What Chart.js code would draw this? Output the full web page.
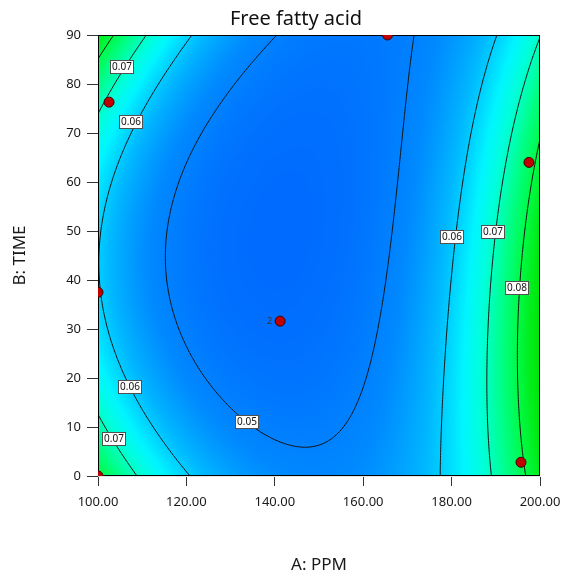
<!DOCTYPE html>
<html>
<head>
<meta charset="utf-8">
<script src="https://cdn.jsdelivr.net/npm/chart.js@4.4.0/dist/chart.umd.min.js"></script>
<style>
  html, body { margin: 0; padding: 0; background: #fff; }
</style>
</head>
<body>
<canvas id="ffaChart" width="563" height="576"></canvas>
<script>
// Fitted response surface: ln(FFA) as a cubic in coded factors
// a = (PPM - 150) / 50, b = (TIME - 45) / 45
// terms: 1, a, b, ab, a², b², a²b, ab², a³, b³
const logCoefs = [-3.10024, 0.176148, -0.0411157, -0.0644748, 0.477653,
  0.0993643, -0.00117925, -0.227345, 0.0116127, 0.00681496];

// contour levels and where their labels sit
const levels = [0.05, 0.06, 0.07, 0.08];
const labelLevel = [0.07, 0.06, 0.06, 0.07, 0.05, 0.06, 0.07, 0.08];
const labelA = [105.4, 107.5, 107.2, 103.6, 133.6, 180.2, 189.4, 194.8];
const labelB = [83.4, 72.3, 18.2, 7.6, 11.1, 48.7, 49.7, 38.3];

// design points (runs)
const pointA = [100, 100, 102.5, 141.2, 165.5, 197.5, 195.7];
const pointB = [0, 37.5, 76.3, 31.6, 90, 64, 2.8];
const pointRuns = [1, 1, 1, 2, 1, 1, 1];

const xTicks = [100, 120, 140, 160, 180, 200];
const yTicks = [0, 10, 20, 30, 40, 50, 60, 70, 80, 90];

function terms(A, B) {
  const a = (A - 150) / 50, b = (B - 45) / 45;
  return [1, a, b, a * b, a * a, b * b, a * a * b, a * b * b, a * a * a, b * b * b];
}
function ffa(A, B) {
  const t = terms(A, B);
  let s = 0;
  for (let i = 0; i < t.length; i++) s += logCoefs[i] * t[i];
  return Math.exp(s);
}

const colorStops = [
  [0.040, [0, 96, 255]], [0.046, [0, 112, 255]], [0.052, [0, 138, 255]],
  [0.058, [0, 185, 255]], [0.064, [0, 245, 255]], [0.068, [0, 255, 220]],
  [0.074, [0, 255, 140]], [0.080, [0, 250, 70]], [0.086, [0, 235, 20]], [0.092, [0, 225, 0]]
];
function colorFor(v) {
  if (v <= colorStops[0][0]) return colorStops[0][1];
  for (let i = 1; i < colorStops.length; i++) {
    if (v <= colorStops[i][0]) {
      const [v0, c0] = colorStops[i - 1], [v1, c1] = colorStops[i];
      const t = (v - v0) / (v1 - v0);
      return c0.map((c, k) => c + (c1[k] - c) * t);
    }
  }
  return colorStops[colorStops.length - 1][1];
}

const surfacePlugin = {
  id: 'surface',
  beforeDatasetsDraw(chart) {
    const {ctx, chartArea: area, scales: {x, y}} = chart;

    // shaded surface, one pixel at a time
    const w = Math.round(area.right - area.left), h = Math.round(area.bottom - area.top);
    const off = document.createElement('canvas');
    off.width = w; off.height = h;
    const octx = off.getContext('2d');
    const img = octx.createImageData(w, h);
    for (let j = 0; j < h; j++) {
      const B = y.getValueForPixel(area.top + j + 0.5);
      for (let i = 0; i < w; i++) {
        const A = x.getValueForPixel(area.left + i + 0.5);
        const c = colorFor(ffa(A, B));
        const k = (j * w + i) * 4;
        img.data[k] = c[0]; img.data[k + 1] = c[1]; img.data[k + 2] = c[2]; img.data[k + 3] = 255;
      }
    }
    octx.putImageData(img, 0, 0);
    ctx.drawImage(off, area.left, area.top);

    // contour lines (marching squares)
    const N = 150;
    const gA = i => 100 + 100 * i / N, gB = j => 90 * j / N;
    const grid = [];
    for (let j = 0; j <= N; j++) {
      grid.push([]);
      for (let i = 0; i <= N; i++) grid[j].push(ffa(gA(i), gB(j)));
    }
    ctx.save();
    ctx.beginPath();
    ctx.rect(area.left, area.top, area.right - area.left, area.bottom - area.top);
    ctx.clip();
    ctx.strokeStyle = '#141414';
    ctx.lineWidth = 1;
    ctx.beginPath();
    for (const lv of levels) {
      for (let j = 0; j < N; j++) {
        for (let i = 0; i < N; i++) {
          const v = [grid[j][i], grid[j][i + 1], grid[j + 1][i + 1], grid[j + 1][i]];
          const c = [[gA(i), gB(j)], [gA(i + 1), gB(j)], [gA(i + 1), gB(j + 1)], [gA(i), gB(j + 1)]];
          const pts = [];
          for (let e = 0; e < 4; e++) {
            const a = v[e], b = v[(e + 1) % 4];
            if ((a < lv) !== (b < lv)) {
              const t = (lv - a) / (b - a);
              const p = c[e], q = c[(e + 1) % 4];
              pts.push([p[0] + (q[0] - p[0]) * t, p[1] + (q[1] - p[1]) * t]);
            }
          }
          for (let k = 0; k + 1 < pts.length; k += 2) {
            ctx.moveTo(x.getPixelForValue(pts[k][0]), y.getPixelForValue(pts[k][1]));
            ctx.lineTo(x.getPixelForValue(pts[k + 1][0]), y.getPixelForValue(pts[k + 1][1]));
          }
        }
      }
    }
    ctx.stroke();

    // level labels in white boxes
    ctx.font = '10px "Noto Sans"';
    ctx.textAlign = 'center';
    ctx.textBaseline = 'middle';
    labelLevel.forEach((lv, i) => {
      const px = Math.round(x.getPixelForValue(labelA[i])), py = Math.round(y.getPixelForValue(labelB[i]));
      ctx.fillStyle = '#fff';
      ctx.fillRect(px - 12, py - 7, 24, 14);
      ctx.strokeStyle = '#505050';
      ctx.strokeRect(px - 11.5, py - 6.5, 23, 13);
      ctx.fillStyle = '#111';
      ctx.fillText(lv.toFixed(2), px, py);
    });
    ctx.restore();

    // frame
    ctx.save();
    ctx.strokeStyle = '#000';
    ctx.lineWidth = 1;
    ctx.strokeRect(area.left + 0.5, area.top + 0.5, area.right - area.left - 1, area.bottom - area.top - 1);
    ctx.restore();
  },
  afterDraw(chart) {
    const {ctx, scales: {x, y}} = chart;
    ctx.save();
    // replicate count beside a point
    ctx.font = '9px "Noto Sans"';
    ctx.fillStyle = '#333';
    ctx.textAlign = 'right';
    ctx.textBaseline = 'middle';
    pointRuns.forEach((r, i) => {
      if (r > 1) ctx.fillText(String(r), x.getPixelForValue(pointA[i]) - 8, y.getPixelForValue(pointB[i]));
    });
    ctx.font = '20px "Noto Sans"';
    ctx.fillStyle = '#111';
    ctx.textAlign = 'center';
    ctx.fillText('Free fatty acid', 296, 19);
    ctx.restore();
  }
};

new Chart(document.getElementById('ffaChart'), {
  type: 'scatter',
  data: {
    datasets: [{
      data: pointA.map((a, i) => ({x: a, y: pointB[i]})),
      pointRadius: 5,
      backgroundColor: '#c00000',
      borderColor: '#400000',
      borderWidth: 1
    }]
  },
  plugins: [surfacePlugin],
  options: {
    responsive: false,
    animation: false,
    layout: {padding: {top: 35, right: 23, left: 0, bottom: 0}},
    plugins: {legend: {display: false}, tooltip: {enabled: false}},
    scales: {
      x: {
        type: 'linear', min: xTicks[0], max: xTicks[xTicks.length - 1],
        afterFit(s) { s.height = 100; s.paddingLeft = 0; s.paddingRight = 0; },
        afterBuildTicks(s) { s.ticks = xTicks.map(v => ({value: v})); },
        grid: {drawOnChartArea: false, tickLength: 10, color: '#333'},
        ticks: {padding: 8, color: '#1a1a1a', font: {family: '"Noto Sans"', size: 13}, callback: v => v.toFixed(2)},
        title: {display: true, text: 'A: PPM', color: '#1a1a1a', font: {family: '"Noto Sans"', size: 17}, padding: {bottom: 1}}
      },
      y: {
        type: 'linear', min: yTicks[0], max: yTicks[yTicks.length - 1],
        afterFit(s) { s.width = 98; s.paddingTop = 0; s.paddingBottom = 0; },
        afterBuildTicks(s) { s.ticks = yTicks.map(v => ({value: v})); },
        grid: {drawOnChartArea: false, tickLength: 11, color: '#333'},
        ticks: {padding: 6, color: '#1a1a1a', font: {family: '"Noto Sans"', size: 13}},
        title: {display: true, text: 'B: TIME', color: '#1a1a1a', font: {family: '"Noto Sans"', size: 17}, padding: {top: 10}}
      }
    }
  }
});
</script>
</body>
</html>
